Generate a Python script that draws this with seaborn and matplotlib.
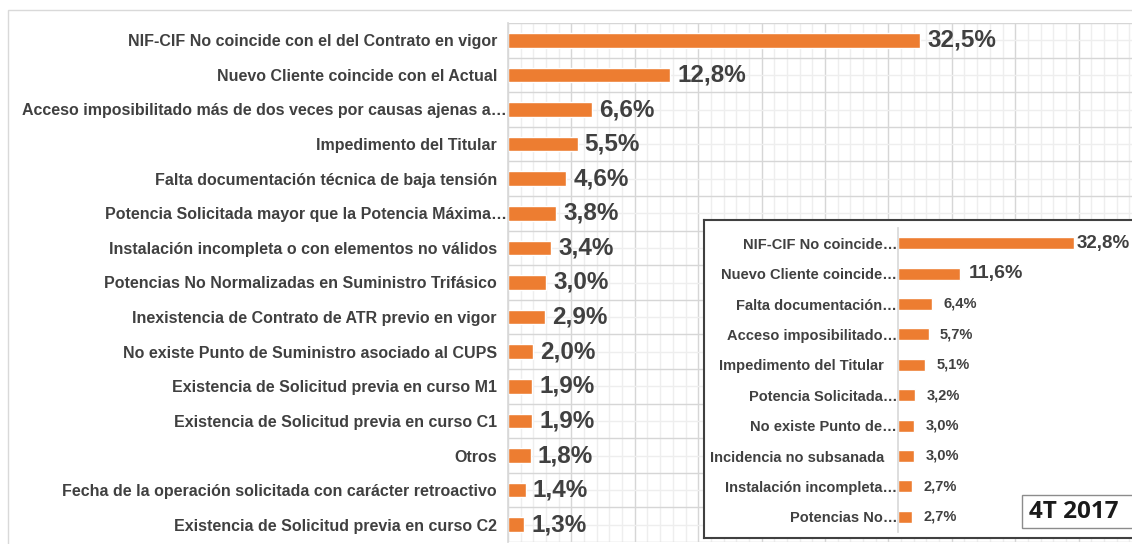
import matplotlib
matplotlib.use("Agg")
import matplotlib.pyplot as plt
import seaborn as sns
import pandas as pd
from matplotlib.ticker import MultipleLocator, FixedLocator
from matplotlib.patches import Rectangle
from matplotlib.transforms import ScaledTranslation

# ---------------- data ----------------
categories = [
    "NIF-CIF No coincide con el del Contrato en vigor",
    "Nuevo Cliente coincide con el Actual",
    "Acceso imposibilitado más de dos veces por causas ajenas a…",
    "Impedimento del Titular",
    "Falta documentación técnica de baja tensión",
    "Potencia Solicitada mayor que la Potencia Máxima…",
    "Instalación incompleta o con elementos no válidos",
    "Potencias No Normalizadas en Suministro Trifásico",
    "Inexistencia de Contrato de ATR previo en vigor",
    "No existe Punto de Suministro asociado al CUPS",
    "Existencia de Solicitud previa en curso M1",
    "Existencia de Solicitud previa en curso C1",
    "Otros",
    "Fecha de la operación solicitada con carácter retroactivo",
    "Existencia de Solicitud previa en curso C2",
]
values = [32.5, 12.8, 6.6, 5.5, 4.6, 3.8, 3.4, 3.0, 2.9, 2.0, 1.9, 1.9, 1.8, 1.4, 1.3]

inset_categories = [
    "NIF-CIF No coincide…",
    "Nuevo Cliente coincide…",
    "Falta documentación…",
    "Acceso imposibilitado…",
    "Impedimento del Titular",
    "Potencia Solicitada…",
    "No existe Punto de…",
    "Incidencia no subsanada",
    "Instalación incompleta…",
    "Potencias No…",
]
inset_values = [32.8, 11.6, 6.4, 5.7, 5.1, 3.2, 3.0, 3.0, 2.7, 2.7]

badge_text = "4T 2017"


def pct(v):
    return f"{v:.1f}".replace(".", ",") + "%"


# ---------------- style ----------------
W, H, DPI = 1132, 544, 100
sns.set_theme(style="white")
plt.rcParams["font.family"] = ["Liberation Sans", "DejaVu Sans"]

ORANGE = "#ED7D31"
TEXT = "#404040"
GRID_MAJ = "#d6d6d6"
GRID_MIN = "#eeeeee"


def px_rect(x0, y0, x1, y1):
    return [x0 / W, 1 - y1 / H, (x1 - x0) / W, (y1 - y0) / H]


fig = plt.figure(figsize=(W / DPI, H / DPI), dpi=DPI)
fig.patch.set_facecolor("white")

# outer chart border
fig.patches.append(Rectangle((8 / W, -0.05), 1.2, 1 - 10 / H + 0.05,
                             transform=fig.transFigure, fill=False,
                             edgecolor="#d9d9d9", lw=1, zorder=0.5))

# ---------------- main chart ----------------
ax = fig.add_axes(px_rect(508, 23, 1132, 542))
df = pd.DataFrame({"cat": categories, "val": values})
sns.barplot(data=df, y="cat", x="val", orient="h", color=ORANGE,
            saturation=1, width=0.42, ax=ax)
ax.set_xlim(0, (1132 - 508) / 12.68)
ax.set_ylim(len(categories) - 0.5, -0.5)
ax.xaxis.set_major_locator(MultipleLocator(5))
ax.xaxis.set_minor_locator(MultipleLocator(1))
ax.yaxis.set_minor_locator(FixedLocator([i + 0.5 for i in range(-1, len(categories))]))
ax.grid(which="major", axis="x", color=GRID_MAJ, lw=1)
ax.grid(which="minor", axis="x", color=GRID_MIN, lw=1)
ax.grid(which="major", axis="y", color=GRID_MIN, lw=1)
ax.grid(which="minor", axis="y", color=GRID_MAJ, lw=1)
ax.set_axisbelow(True)
ax.tick_params(axis="x", which="both", length=0, labelbottom=False)
ax.tick_params(axis="y", which="major", length=0, pad=8, labelsize=11.5, labelcolor=TEXT)
ax.tick_params(axis="y", which="minor", length=4, color="#d9d9d9", direction="out", width=1)
for s in ["top", "right", "bottom"]:
    ax.spines[s].set_visible(False)
ax.spines["left"].set_color("#d9d9d9")
ax.set_xlabel("")
ax.set_ylabel("")
ax.bar_label(ax.containers[0], labels=[pct(v) for v in values], padding=5,
             fontsize=17.5, fontweight="bold", color=TEXT)

# ---------------- inset ----------------
frame = fig.add_axes(px_rect(704, 220, 1145, 538))
frame.set_facecolor("white")
frame.set_xticks([])
frame.set_yticks([])
for s in frame.spines.values():
    s.set_color("#404040")
    s.set_linewidth(1.5)

iax = fig.add_axes(px_rect(898, 228, 1132, 532))
idf = pd.DataFrame({"cat": inset_categories, "val": inset_values})
sns.barplot(data=idf, y="cat", x="val", orient="h", color=ORANGE,
            saturation=1, width=0.4, ax=iax)
iax.set_facecolor("none")
iax.set_xlim(0, (1132 - 898) / 5.37)
iax.set_ylim(len(inset_categories) - 0.5, -0.5)
iax.yaxis.set_minor_locator(FixedLocator([i + 0.5 for i in range(-1, len(inset_categories))]))
iax.tick_params(axis="x", which="both", length=0, labelbottom=False)
iax.tick_params(axis="y", which="major", length=0, pad=10, labelsize=10.5, labelcolor=TEXT)
iax.tick_params(axis="y", which="minor", length=3, color="#d9d9d9", direction="out", width=1)
for s in ["top", "right", "bottom"]:
    iax.spines[s].set_visible(False)
iax.spines["left"].set_color("#d9d9d9")
iax.set_xlabel("")
iax.set_ylabel("")
texts = iax.bar_label(iax.containers[0], labels=[pct(v) for v in inset_values],
                      padding=8, fontsize=10.5, fontweight="bold", color=TEXT)
texts[0].set_fontsize(13.5)
texts[0].xyann = (2, 0)
texts[1].set_fontsize(14)
texts[1].xyann = (6, 0)

# ---------------- badge ----------------
fig.patches.append(Rectangle((1022 / W, 1 - 528 / H), 0.2, 33 / H,
                             transform=fig.transFigure, facecolor="white",
                             edgecolor="#8c8c8c", lw=1, zorder=2))
fig.text(1074 / W, 1 - 512 / H, badge_text, ha="center", va="center",
         fontsize=17.5, fontweight="bold", color="#1a1a1a",
         family=["Open Sans", "DejaVu Sans"], zorder=3)


# truncated category labels (ending in an ellipsis) sit right against the axis
def nudge_truncated(axis_obj, dx_px):
    off = ScaledTranslation(dx_px / DPI, 0, fig.dpi_scale_trans)
    for tick in axis_obj.yaxis.get_major_ticks():
        lbl = tick.label1
        lbl.set_fontweight("bold")
        if lbl.get_text().endswith("…"):
            lbl.set_transform(lbl.get_transform() + off)


nudge_truncated(ax, 10)
nudge_truncated(iax, 13)

fig.savefig("out.png", dpi=DPI, facecolor="white")
